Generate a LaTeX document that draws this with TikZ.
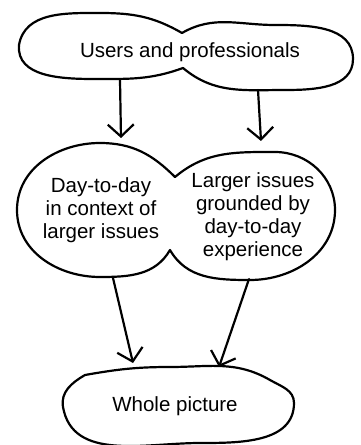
\documentclass[tikz,border=0pt]{standalone}
\usepackage{fontspec}
\setmainfont{Liberation Sans}
\usetikzlibrary{arrows.meta}

\begin{document}
\begin{tikzpicture}[x=1pt, y=1pt, >={Straight Barb[length=12pt, width=26pt]}, line cap=round, line join=round]
	
	% ================= 1. styles =================
	\tikzset{
		blob/.style={draw=black, line width=2.2pt},
		flow/.style={->, line width=2.2pt},
		txt/.style={font=\fontsize{20.5}{23}\selectfont, align=center, inner sep=0pt}
	}
	\useasboundingbox (0,0) rectangle (360,445);
	
	% ================= 2. top blob: users and professionals =================
	\draw[blob] (182,412) to[out=150, in=0] (100,432)
	to[out=180, in=80] (19,400)
	to[out=-95, in=180] (95,366)
	to[out=0, in=-160] (183,377)
	to[out=-40, in=180] (285,355)
	to[out=0, in=-90] (353,386)
	to[out=90, in=0] (275,420)
	to[out=180, in=30] cycle;
	\node[txt, anchor=base] (users) at (190,387) {Users and professionals};
	
	% ================= 3. middle blob: two views =================
	\draw[blob] (175,268) to[out=135, in=0] (100,302)
	to[out=180, in=90] (17,235)
	to[out=-90, in=180] (100,168)
	to[out=0, in=-120] (170,195)
	to[out=-60, in=180] (250,165)
	to[out=0, in=-90] (335,235)
	to[out=90, in=0] (275,293)
	to[out=180, in=40] cycle;
	\node[txt] (daily) at (101,235) {Day-to-day\\in context of\\larger issues};
	\node[txt] (larger) at (253,228) {Larger issues\\grounded by\\day-to-day\\experience};
	
	% ================= 4. bottom blob: whole picture =================
	\draw[blob] (85,70) to[out=10, in=180] (170,78)
	to[out=0, in=150] (270,65)
	to[out=-30, in=90] (294,42)
	to[out=-90, in=0] (200,2)
	to[out=180, in=-80] (63,38)
	to[out=100, in=-150] cycle;
	\node[txt, anchor=base] (whole) at (175,33) {Whole picture};
	
	% ================= 5. arrows between the blobs =================
	\coordinate (users-l) at (120,365);
	\coordinate (users-r) at (258,355);
	\coordinate (daily-in) at (121,307);
	\coordinate (larger-in) at (261,304);
	\coordinate (daily-out) at (113,167);
	\coordinate (larger-out) at (249,166);
	\coordinate (whole-l) at (133,82);
	\coordinate (whole-r) at (219,78);
	
	\draw[flow] (users-l) -- (daily-in);
	\draw[flow] (users-r) -- (larger-in);
	\draw[flow] (daily-out) -- (whole-l);
	\draw[flow] (larger-out) -- (whole-r);
	
\end{tikzpicture}
\end{document}
